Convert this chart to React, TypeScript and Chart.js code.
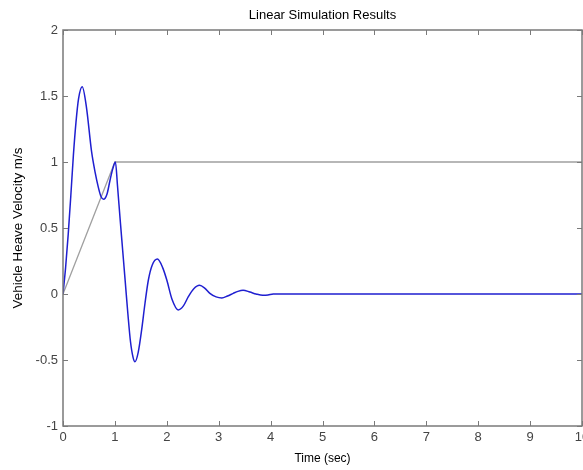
import React, { useEffect, useRef } from "react";
import { Chart, registerables } from "chart.js";

Chart.register(...registerables);

// Blue: vehicle heave velocity response (m/s) vs time (sec)
const responseTime = [
  0, 0.05, 0.1, 0.15, 0.2, 0.25, 0.3, 0.37, 0.45, 0.55, 0.62, 0.68, 0.73, 0.78,
  0.85, 0.905, 0.96, 1.01, 1.05, 1.1, 1.15, 1.2, 1.25, 1.3, 1.35, 1.387, 1.45,
  1.516, 1.58, 1.645, 1.72, 1.82, 1.92, 2.0, 2.1, 2.22, 2.32, 2.415, 2.52, 2.63,
  2.73, 2.83, 2.95, 3.06, 3.17, 3.28, 3.37, 3.47, 3.6, 3.72, 3.85, 3.95, 4.05,
  4.5, 6, 8, 10,
];
const responseValue = [
  0, 0.2, 0.45, 0.74, 1.05, 1.3, 1.48, 1.57, 1.42, 1.08, 0.92, 0.81, 0.74, 0.717,
  0.76, 0.86, 0.95, 1.0, 0.82, 0.57, 0.33, 0.09, -0.15, -0.36, -0.48, -0.513, -0.44,
  -0.27, -0.07, 0.106, 0.22, 0.265, 0.2, 0.106, -0.04, -0.121, -0.09, -0.02, 0.04, 0.066,
  0.045, 0.005, -0.022, -0.03, -0.015, 0.005, 0.02, 0.028, 0.015, 0.0, -0.01, -0.008, 0.0,
  0, 0, 0, 0,
];

// Gray: input signal
const inputTime = [0, 1, 10];
const inputValue = [0, 1, 1];

// Axis settings
const xMin = 0;
const xMax = 10;
const xStep = 1;
const yMin = -1;
const yMax = 2;
const yStep = 0.5;

const titleText = "Linear Simulation Results";
const xTitle = "Time (sec)";
const yTitle = "Vehicle Heave Velocity m/s";

const FONT = "'Liberation Sans', Arial, Helvetica, sans-serif";

const boxPlugin = {
  id: "matlabBox",
  afterDatasetsDraw(chart: any) {
    const { ctx, chartArea: a, scales } = chart;
    const xs = scales.x;
    const ys = scales.y;
    ctx.save();
    ctx.strokeStyle = "#7a7a7a";
    ctx.lineWidth = 1.5;
    ctx.strokeRect(a.left, a.top, a.right - a.left, a.bottom - a.top);
    ctx.lineWidth = 1;
    const tl = 5;
    ctx.beginPath();
    xs.ticks.forEach((t: any) => {
      const px = Math.round(xs.getPixelForValue(t.value)) + 0.5;
      ctx.moveTo(px, a.bottom);
      ctx.lineTo(px, a.bottom - tl);
      ctx.moveTo(px, a.top);
      ctx.lineTo(px, a.top + tl);
    });
    ys.ticks.forEach((t: any) => {
      const py = Math.round(ys.getPixelForValue(t.value)) + 0.5;
      ctx.moveTo(a.left, py);
      ctx.lineTo(a.left + tl, py);
      ctx.moveTo(a.right, py);
      ctx.lineTo(a.right - tl, py);
    });
    ctx.stroke();
    ctx.restore();
  },
};

export default function App() {
  const canvasRef = useRef<HTMLCanvasElement | null>(null);

  useEffect(() => {
    if (!canvasRef.current) return;
    const responseData = responseTime.map((t, i) => ({ x: t, y: responseValue[i] }));
    const inputData = inputTime.map((t, i) => ({ x: t, y: inputValue[i] }));

    const chart = new Chart(canvasRef.current, {
      type: "line",
      data: {
        datasets: [
          {
            label: "Response",
            data: responseData,
            borderColor: "#1f1fd0",
            borderWidth: 1.5,
            pointRadius: 0,
            cubicInterpolationMode: "monotone",
            fill: false,
          },
          {
            label: "Input",
            data: inputData,
            borderColor: "#a0a0a0",
            borderWidth: 1.3,
            pointRadius: 0,
            tension: 0,
            fill: false,
          },
        ],
      },
      options: {
        responsive: false,
        animation: false,
        devicePixelRatio: 1,
        layout: {
          autoPadding: false,
          padding: { left: 0, right: 1, top: 0, bottom: 0 },
        },
        plugins: {
          legend: { display: false },
          tooltip: { enabled: false },
          title: {
            display: true,
            fullSize: false,
            text: titleText,
            color: "#000",
            font: { family: FONT, size: 13, weight: "normal" },
            padding: { top: 7.2, bottom: 7.2 },
          },
        },
        scales: {
          x: {
            type: "linear",
            min: xMin,
            max: xMax,
            grid: { display: false, drawTicks: false },
            border: { display: false },
            ticks: {
              stepSize: xStep,
              color: "#444",
              padding: 4,
              maxRotation: 0,
              autoSkip: false,
              font: { family: FONT, size: 13 },
              callback: (v: any) => String(v),
            },
            title: {
              display: true,
              text: xTitle,
              color: "#000",
              font: { family: FONT, size: 12 },
              padding: { top: 0, bottom: 3.8 },
            },
            afterFit: (s: any) => {
              s.height = 44;
              s.paddingLeft = 0;
              s.paddingRight = 0;
            },
          },
          y: {
            type: "linear",
            min: yMin,
            max: yMax,
            grid: { display: false, drawTicks: false },
            border: { display: false },
            ticks: {
              stepSize: yStep,
              color: "#444",
              padding: 5,
              autoSkip: false,
              font: { family: FONT, size: 13 },
              callback: (v: any) => String(v),
            },
            title: {
              display: true,
              text: yTitle,
              color: "#000",
              font: { family: FONT, size: 13.4 },
              padding: { top: 10.4, bottom: 0 },
            },
            afterFit: (s: any) => {
              s.width = 63;
              s.paddingTop = 0;
              s.paddingBottom = 0;
            },
          },
        },
      },
      plugins: [boxPlugin],
    });

    return () => chart.destroy();
  }, []);

  return (
    <div style={{ position: "absolute", left: 0, top: 0, width: 583, height: 470, background: "#fff" }}>
      <canvas ref={canvasRef} width={583} height={470} style={{ display: "block" }} />
    </div>
  );
}
